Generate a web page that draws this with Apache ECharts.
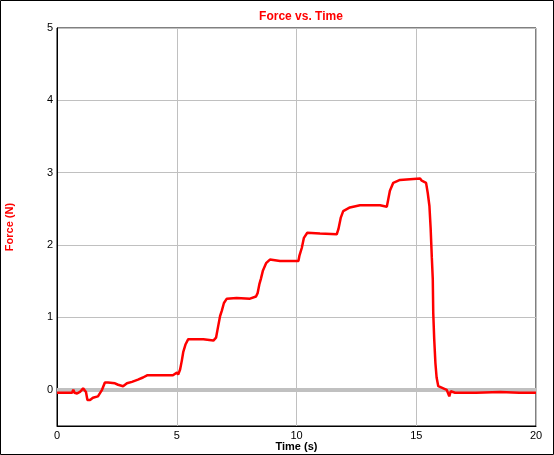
<!DOCTYPE html>
<html>
<head>
<meta charset="utf-8">
<script src="https://cdn.jsdelivr.net/npm/echarts@6/dist/echarts.min.js"></script>
<style>
html,body{margin:0;padding:0;background:#fff;}
#chart{width:554px;height:455px;}
</style>
</head>
<body>
<div id="chart"></div>
<script>
const chartTitle = 'Force vs. Time';
const xName = 'Time (s)';
const yName = 'Force (N)';

const timeS = [0, 0.63, 0.68, 0.73, 0.84, 0.96, 1.09, 1.21, 1.27, 1.38, 1.50, 1.71, 1.88, 2.0, 2.13, 2.42, 2.55, 2.76, 2.92, 3.13, 3.38, 3.59, 3.76, 4.09, 4.51, 4.84, 5.01, 5.06, 5.14, 5.21, 5.27, 5.37, 5.48, 5.69, 6.11, 6.53, 6.64, 6.73, 6.81, 6.88, 6.97, 7.09, 7.50, 8.06, 8.31, 8.38, 8.45, 8.51, 8.6, 8.73, 8.89, 9.31, 9.71, 10.08, 10.12, 10.22, 10.31, 10.45, 10.98, 11.68, 11.75, 11.85, 11.95, 12.23, 12.65, 13.49, 13.77, 13.83, 13.90, 14.04, 14.32, 14.74, 15.16, 15.23, 15.41, 15.48, 15.55, 15.60, 15.65, 15.69, 15.71, 15.75, 15.80, 15.85, 15.92, 16.06, 16.27, 16.38, 16.44, 16.62, 17.5, 18.5, 19.3, 20];
const forceN = [-0.04, -0.04, 0.0, -0.04, -0.05, -0.03, 0.02, -0.03, -0.14, -0.14, -0.11, -0.09, 0.0, 0.1, 0.1, 0.09, 0.07, 0.05, 0.09, 0.11, 0.14, 0.17, 0.2, 0.2, 0.2, 0.2, 0.24, 0.21, 0.28, 0.4, 0.52, 0.63, 0.7, 0.7, 0.7, 0.68, 0.72, 0.88, 1.02, 1.09, 1.2, 1.26, 1.27, 1.26, 1.29, 1.34, 1.46, 1.53, 1.65, 1.75, 1.8, 1.78, 1.78, 1.78, 1.85, 1.96, 2.1, 2.17, 2.16, 2.15, 2.22, 2.38, 2.47, 2.52, 2.55, 2.55, 2.53, 2.63, 2.75, 2.86, 2.9, 2.91, 2.92, 2.89, 2.86, 2.72, 2.54, 2.24, 1.83, 1.53, 1.06, 0.7, 0.37, 0.17, 0.05, 0.03, 0.0, -0.09, -0.02, -0.04, -0.04, -0.03, -0.04, -0.04];

const xTicks = [0, 5, 10, 15, 20];
const yLabels = [0, 1, 2, 3, 4, 5];

const seriesData = timeS.map((t, i) => [t, forceN[i]]);

const chart = echarts.init(document.getElementById('chart'), null, {renderer: 'canvas'});
const font = 'Liberation Sans, Arial, sans-serif';
chart.setOption({
  animation: false,
  backgroundColor: '#fff',
  title: {
    text: chartTitle,
    left: 296,
    top: 6,
    textAlign: 'center',
    textStyle: {color: '#ff0000', fontSize: 12, fontWeight: 'bold', fontFamily: font}
  },
  grid: {
    left: 57, right: 18, top: 28, bottom: 29,
    containLabel: false,
    outerBoundsMode: 'none',
    show: true, borderColor: '#000', borderWidth: 1, backgroundColor: 'transparent'
  },
  xAxis: {
    type: 'value',
    min: xTicks[0], max: xTicks[xTicks.length - 1], interval: 5,
    name: xName,
    nameLocation: 'middle',
    nameGap: 15,
    nameMoveOverlap: false,
    nameTextStyle: {color: '#000', fontWeight: 'bold', fontSize: 11, fontFamily: font, verticalAlign: 'top'},
    axisLine: {show: true, onZero: false, lineStyle: {color: '#000', width: 1}},
    axisTick: {show: false},
    axisLabel: {color: '#000', fontSize: 11, fontFamily: font, margin: 4},
    splitLine: {show: true, lineStyle: {color: '#c0c0c0', width: 1}}
  },
  yAxis: {
    type: 'value',
    min: -0.5, max: 5, splitNumber: 5,
    name: yName,
    nameLocation: 'middle',
    nameRotate: 90,
    nameGap: 42,
    nameMoveOverlap: false,
    nameTextStyle: {color: '#ff0000', fontWeight: 'bold', fontSize: 11, fontFamily: font},
    axisLine: {show: true, onZero: false, lineStyle: {color: '#000', width: 1}},
    axisTick: {show: false},
    axisLabel: {
      color: '#000', fontSize: 11, fontFamily: font, margin: 4,
      formatter: v => (yLabels.indexOf(v) >= 0 ? String(v) : '')
    },
    splitLine: {show: true, lineStyle: {color: '#c0c0c0', width: 1}}
  },
  graphic: [{
    type: 'rect',
    shape: {x: 0.5, y: 0.5, width: 553, height: 454},
    style: {fill: 'none', stroke: '#000', lineWidth: 1},
    silent: true, z: 100
  }],
  series: [
    {
      name: 'zero',
      type: 'line',
      data: [],
      markLine: {
        silent: true,
        symbol: 'none',
        label: {show: false},
        lineStyle: {color: '#c0c0c0', width: 4, type: 'solid'},
        data: [{yAxis: 0}]
      }
    },
    {
      name: 'Force',
      type: 'line',
      data: seriesData,
      showSymbol: false,
      symbol: 'none',
      lineStyle: {color: '#ff0000', width: 2.5},
      z: 5
    }
  ]
});
</script>
</body>
</html>
